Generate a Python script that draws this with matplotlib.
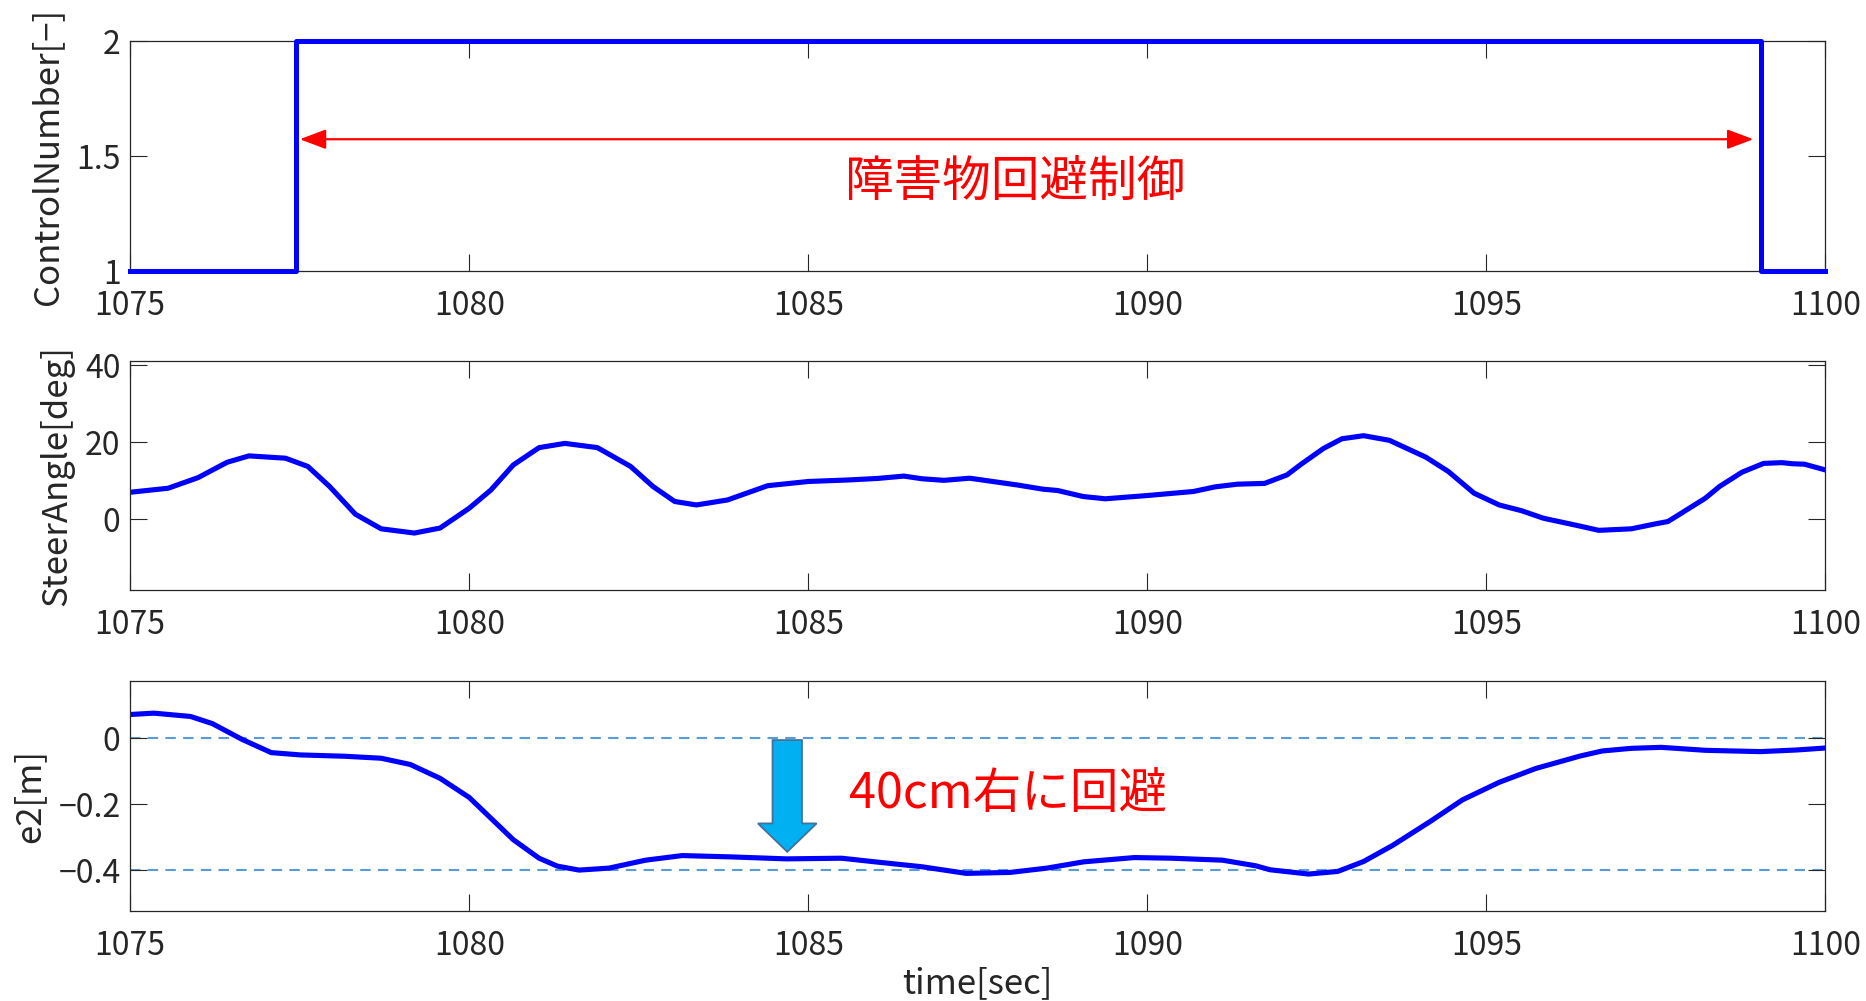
import matplotlib
matplotlib.use("Agg")
import matplotlib.pyplot as plt
from matplotlib.patches import FancyArrow

plt.rcParams['font.family'] = ['Noto Sans CJK JP', 'DejaVu Sans']

# control mode (1: normal, 2: obstacle avoidance)
ctrl_t = [1075.0, 1077.45, 1077.45, 1099.05, 1099.05, 1100.0]
ctrl_v = [1, 1, 2, 2, 1, 1]

# steering angle [deg]
steer_t = [1075.0, 1075.56, 1076.0, 1076.43, 1076.75, 1077.29, 1077.62, 1077.94,
           1078.32, 1078.70, 1079.19, 1079.57, 1080.0, 1080.32, 1080.65, 1081.03,
           1081.41, 1081.89, 1082.38, 1082.71, 1083.03, 1083.35, 1083.81, 1084.40,
           1085.0, 1085.60, 1086.03, 1086.41, 1086.68, 1087.0, 1087.38, 1088.08,
           1088.46, 1088.68, 1089.05, 1089.38, 1090.0, 1090.68, 1091.0, 1091.33,
           1091.73, 1092.06, 1092.27, 1092.60, 1092.87, 1093.19, 1093.57, 1094.11,
           1094.44, 1094.82, 1095.19, 1095.52, 1095.84, 1096.33, 1096.66, 1097.14,
           1097.47, 1097.68, 1098.23, 1098.44, 1098.77, 1099.09, 1099.36, 1099.52,
           1099.69, 1100.0]
steer_v = [7.0, 8.05, 10.8, 14.8, 16.45, 15.85, 13.7, 8.5,
           1.3, -2.5, -3.6, -2.3, 2.86, 7.6, 14.1, 18.6,
           19.7, 18.6, 13.7, 8.5, 4.6, 3.7, 5.0, 8.7,
           9.8, 10.2, 10.6, 11.2, 10.5, 10.1, 10.65, 8.9,
           7.8, 7.45, 5.9, 5.3, 6.15, 7.2, 8.4, 9.1,
           9.3, 11.5, 14.3, 18.4, 20.9, 21.7, 20.5, 16.1,
           12.4, 6.75, 3.7, 2.2, 0.26, -1.6, -2.9, -2.5,
           -1.3, -0.6, 5.45, 8.5, 12.2, 14.5, 14.7, 14.4,
           14.3, 12.8]

# lateral error e2 [m]
e2_t = [1075.0, 1075.35, 1075.89, 1076.21, 1076.65, 1077.08, 1077.51, 1078.16,
        1078.70, 1079.13, 1079.57, 1080.0, 1080.32, 1080.65, 1081.03, 1081.30,
        1081.62, 1082.06, 1082.60, 1083.14, 1083.86, 1084.68, 1085.49, 1086.03,
        1086.68, 1087.33, 1087.98, 1088.52, 1089.06, 1089.81, 1090.36, 1091.11,
        1091.60, 1091.81, 1092.38, 1092.81, 1093.19, 1093.62, 1094.17, 1094.65,
        1095.19, 1095.73, 1096.39, 1096.71, 1097.14, 1097.58, 1098.23, 1099.04,
        1099.58, 1100.0]
e2_v = [0.0725, 0.0766, 0.0665, 0.045, -0.003, -0.043, -0.050, -0.054,
        -0.060, -0.079, -0.121, -0.179, -0.242, -0.307, -0.363, -0.387,
        -0.399, -0.393, -0.369, -0.355, -0.359, -0.365, -0.363, -0.375,
        -0.389, -0.409, -0.406, -0.393, -0.374, -0.361, -0.363, -0.369,
        -0.386, -0.398, -0.411, -0.403, -0.373, -0.324, -0.252, -0.186,
        -0.133, -0.091, -0.053, -0.038, -0.030, -0.027, -0.036, -0.040,
        -0.035, -0.029]

e2_refs = [0.0, -0.4]

x_ticks = [1075, 1080, 1085, 1090, 1095, 1100]
dark = '#262626'
blue = '#0000ff'
tick_fs = 23
label_fs = 25

fig = plt.figure(figsize=(18.66, 10.01), dpi=100)
ax1 = fig.add_axes([0.0698, 0.7290, 0.9084, 0.2298])
ax2 = fig.add_axes([0.0698, 0.4106, 0.9084, 0.2291])
ax3 = fig.add_axes([0.0698, 0.0899, 0.9084, 0.2301])


def style(ax):
    ax.set_xlim(1075, 1100)
    ax.set_xticks(x_ticks)
    ax.tick_params(direction='in', length=12.2, width=0.8, colors=dark,
                   labelsize=tick_fs, top=True, right=True)
    ax.tick_params(axis='x', pad=13.5)
    ax.tick_params(axis='y', pad=7)
    for s in ax.spines.values():
        s.set_color(dark)
        s.set_linewidth(0.9)


# control number
ax1.plot(ctrl_t, ctrl_v, color=blue, lw=3.6, clip_on=False, zorder=3)
style(ax1)
ax1.set_ylim(1, 2)
ax1.set_yticks([1, 1.5, 2])
ax1.set_yticklabels(['1', '1.5', '2'])
ax1.set_ylabel('ControlNumber[−]', fontsize=label_fs, color=dark, va='center')
ax1.yaxis.set_label_coords(-0.0486, 0.5)
ax1.annotate('', xy=(1098.94, 1.574), xytext=(1077.5, 1.574),
             arrowprops=dict(arrowstyle='<|-|>,head_length=0.8,head_width=0.3',
                             color='red', lw=1.6, mutation_scale=20,
                             shrinkA=0, shrinkB=0))
ax1.text(1088.05, 1.384, '障害物回避制御', color='red', fontsize=35,
         ha='center', va='center')

# steering angle
ax2.plot(steer_t, steer_v, color=blue, lw=3.7)
style(ax2)
ax2.set_ylim(-18.4, 41.2)
ax2.set_yticks([0, 20, 40])
ax2.set_ylabel('SteerAngle[deg]', fontsize=label_fs, color=dark, va='center')
ax2.yaxis.set_label_coords(-0.0432, 0.5)

# lateral error
for r in e2_refs:
    ax3.axhline(r, color='#5b9bd5', lw=1.5, ls=(0, (5, 3.5)), zorder=1)
ax3.plot(e2_t, e2_v, color=blue, lw=3.7, zorder=2)
style(ax3)
ax3.set_ylim(-0.523, 0.175)
ax3.set_yticks([0, -0.2, -0.4])
ax3.set_yticklabels(['0', '−0.2', '−0.4'])
ax3.set_ylabel('e2[m]', fontsize=label_fs, color=dark, va='center')
ax3.yaxis.set_label_coords(-0.0592, 0.5)
ax3.set_xlabel('time[sec]', fontsize=label_fs, color=dark, va='center')
ax3.xaxis.set_label_coords(0.5, -0.315)

ax3.add_patch(FancyArrow(1084.69, -0.005, 0, -0.3386, width=0.434,
                         head_width=0.866, head_length=0.086,
                         length_includes_head=True, facecolor='#00b0f0',
                         edgecolor='#41719c', lw=1.3, zorder=4))
ax3.text(1085.6, -0.169, '40cm右に回避', color='red', fontsize=35,
         ha='left', va='center')

fig.savefig('out.png', dpi=100)
